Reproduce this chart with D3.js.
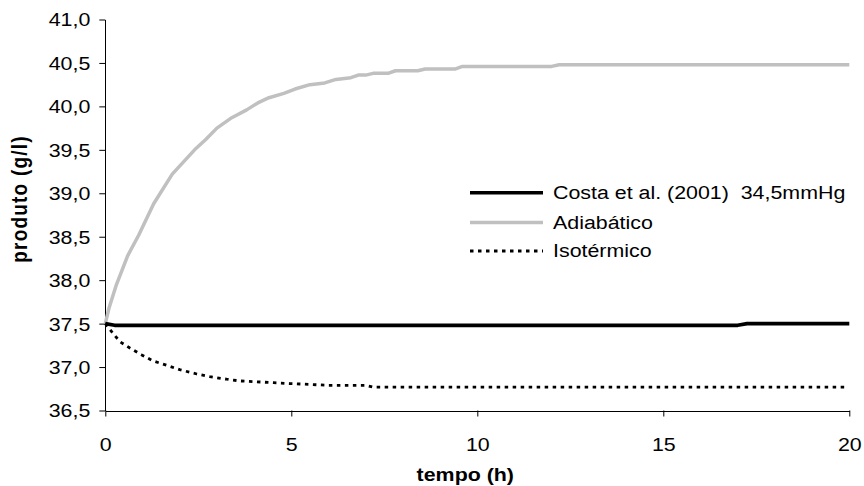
<!DOCTYPE html>
<html>
<head>
<meta charset="utf-8">
<script src="https://cdn.jsdelivr.net/npm/d3@7"></script>
<style>
  html, body { margin: 0; padding: 0; background: #fff; }
  svg { display: block; }
  text { font-family: "Liberation Sans", Arial, sans-serif; fill: #000; }
</style>
</head>
<body>
<svg id="chart" width="864" height="486"></svg>
<script>
// Product concentration over time for three operating conditions
const xTicks = [0, 5, 10, 15, 20];
const yTicks = [36.5, 37.0, 37.5, 38.0, 38.5, 39.0, 39.5, 40.0, 40.5, 41.0];

const seriesNames = ["Costa et al. (2001)  34,5mmHg", "Adiabático", "Isotérmico"];

const costaTime  = [0, 0.25, 17.0, 17.25, 20];
const costaValue = [37.50, 37.48, 37.48, 37.50, 37.50];

const adiabaticTime  = [0, 0.1, 0.3, 0.6, 0.9, 1.3, 1.8, 2.4, 2.7, 3.0, 3.4, 3.8, 4.1, 4.4, 4.8, 5.1, 5.5, 5.9, 6.2, 6.6, 6.8, 7.0, 7.2, 7.6, 7.8, 8.4, 8.6, 9.4, 9.6, 12.0, 12.2, 20];
const adiabaticValue = [37.50, 37.68, 37.95, 38.28, 38.52, 38.88, 39.22, 39.50, 39.62, 39.75, 39.87, 39.96, 40.04, 40.10, 40.15, 40.20, 40.25, 40.27, 40.31, 40.33, 40.36, 40.36, 40.38, 40.38, 40.41, 40.41, 40.43, 40.43, 40.46, 40.46, 40.48, 40.48];

const isothermTime  = [0, 0.22, 0.4, 0.66, 0.98, 1.29, 1.65, 2.0, 2.46, 2.81, 3.26, 3.62, 4.07, 4.52, 4.96, 5.5, 6.0, 6.6, 7.0, 7.2, 19.9];
const isothermValue = [37.50, 37.38, 37.29, 37.22, 37.14, 37.07, 37.02, 36.97, 36.92, 36.89, 36.86, 36.84, 36.83, 36.82, 36.81, 36.80, 36.79, 36.79, 36.79, 36.77, 36.77];

const svg = d3.select("#chart");
const stretch = 1.15;       // glyphs are drawn slightly wider than tall
const fontSize = 18.6;

const x = d3.scaleLinear().domain([0, 20]).range([105.3, 849.3]);
const y = d3.scaleLinear().domain([36.5, 41]).range([410.5, 19.5]);

const fmt = d => d3.format(".1f")(d).replace(".", ",");

// Y axis
const yAxis = svg.append("g")
  .attr("transform", `translate(${x(0)},0)`)
  .call(d3.axisLeft(y).tickValues(yTicks).tickSize(6).tickSizeOuter(0).tickFormat(fmt));
yAxis.select(".domain").attr("stroke", "#000").attr("stroke-width", 1);
yAxis.selectAll(".tick line").attr("stroke", "#000");
yAxis.selectAll(".tick text")
  .attr("x", null).attr("dy", null)
  .attr("dominant-baseline", "central")
  .attr("transform", `translate(-15,0) scale(${stretch},1)`)
  .style("font-size", fontSize + "px");

// X axis
const xAxis = svg.append("g")
  .attr("transform", `translate(0,${y(36.5)})`)
  .call(d3.axisBottom(x).tickValues(xTicks).tickSize(6).tickSizeOuter(0).tickFormat(d3.format("d")));
xAxis.select(".domain").attr("stroke", "#000").attr("stroke-width", 1);
xAxis.selectAll(".tick line").attr("stroke", "#000");
xAxis.selectAll(".tick text")
  .attr("y", null).attr("dy", null)
  .attr("transform", `translate(0,40) scale(${stretch},1)`)
  .style("font-size", fontSize + "px");
svg.selectAll(".domain").attr("shape-rendering", "crispEdges");

// Axis titles
svg.append("text")
  .attr("transform", `translate(${(x(0) + x(20)) / 2 - 12},481) scale(${stretch},1)`)
  .attr("text-anchor", "middle")
  .style("font-size", fontSize + "px").style("font-weight", "bold")
  .text("tempo (h)");

svg.append("text")
  .attr("transform", `translate(27,199) rotate(-90) scale(1,${stretch})`)
  .attr("text-anchor", "middle")
  .style("font-size", "19px").style("font-weight", "bold")
  .style("letter-spacing", "1.2px")
  .text("produto (g/l)");

// Series lines
const line = d3.line().x(d => x(d[0])).y(d => y(d[1]));
const zip = (t, v) => t.map((ti, i) => [ti, v[i]]);

const styles = [
  { stroke: "#000000", width: 3.6, dash: null },
  { stroke: "#c0c0c0", width: 3.5, dash: null },
  { stroke: "#000000", width: 2.8, dash: "3.5,4.5" }
];
const data = [zip(costaTime, costaValue), zip(adiabaticTime, adiabaticValue), zip(isothermTime, isothermValue)];

// grey first, then the dotted and the solid black on top
[1, 2, 0].forEach(i => {
  svg.append("path")
    .datum(data[i])
    .attr("fill", "none")
    .attr("stroke", styles[i].stroke)
    .attr("stroke-width", styles[i].width)
    .attr("stroke-dasharray", styles[i].dash)
    .attr("stroke-linejoin", "round")
    .attr("d", line);
});

// Legend
const legendY = [192.7, 222.5, 251];
const legend = svg.append("g");
seriesNames.forEach((name, i) => {
  legend.append("line")
    .attr("x1", 470).attr("x2", 543)
    .attr("y1", legendY[i]).attr("y2", legendY[i])
    .attr("stroke", styles[i].stroke)
    .attr("stroke-width", styles[i].width)
    .attr("stroke-dasharray", styles[i].dash);
  legend.append("text")
    .attr("transform", `translate(553,${legendY[i]}) scale(${stretch},1)`)
    .attr("dominant-baseline", "central")
    .style("font-size", fontSize + "px")
    .style("white-space", "pre")
    .attr("xml:space", "preserve")
    .text(name);
});
</script>
</body>
</html>
